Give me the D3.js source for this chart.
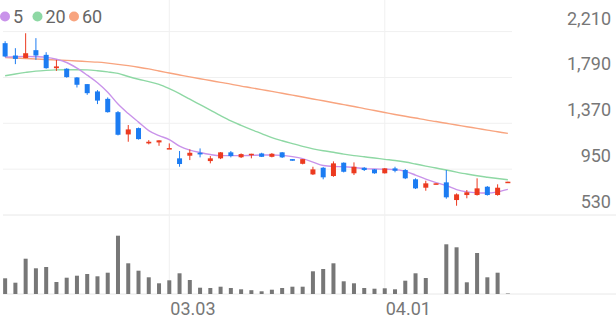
<!DOCTYPE html>
<html>
<head>
<meta charset="utf-8">
<script src="https://cdn.jsdelivr.net/npm/d3@7"></script>
<style>
  body { margin: 0; background: #fff; }
  svg { display: block; font-family: Roboto, 'Noto Sans', sans-serif; }
</style>
</head>
<body>
<svg id="chart"></svg>
<script>
// daily candles, oldest first
const opens  = [2104,1991,1967,2040,1997,1875,1870,1790,1729,1662,1594,1472,1268,1326,1186,1195,1137,1049,1073,1100,
                1024,1049,1104,1059,1079,1094,1063,1104,1042,999,902,963,887,1009,912,963,948,912,957,942,
                857,780,811,829,667,713,713,789,713,829];
const highs  = [2122,2058,2195,2150,2021,1951,1875,1793,1729,1674,1607,1482,1354,1331,1216,1214,1186,1116,1131,1140,
                1070,1107,1116,1094,1091,1100,1097,1107,1042,1042,972,969,1021,1012,1012,969,951,960,972,951,
                866,844,820,942,728,759,866,795,811,835];
const lows   = [1976,1912,1967,1951,1870,1850,1788,1698,1631,1546,1468,1259,1201,1221,1177,1164,1137,972,1033,1058,
                1003,1042,1058,1052,1049,1061,1058,1052,1027,994,896,857,880,920,896,933,908,910,921,859,
                768,752,811,679,615,683,708,708,707,829];
const closes = [1982,1960,2012,1991,1875,1891,1793,1723,1646,1578,1472,1265,1314,1225,1201,1214,1143,997,1100,1085,
                1049,1104,1070,1088,1091,1063,1091,1058,1027,1042,948,875,1003,926,972,942,912,957,935,866,
                774,820,820,692,719,738,774,713,780,835];
const volumes = [157,113,353,257,270,120,163,183,200,177,213,583,307,233,167,107,137,207,140,63,
                 60,73,60,47,38,27,43,60,73,73,227,250,307,127,107,60,53,57,47,133,
                 207,160,0,497,467,117,410,167,213,5].map(v => v * 1000);

// moving averages as drawn (they carry history from before the window)
const ma5  = [1976,1981,1983,1980,1974,1957,1927,1875,1811,1742,1655,1546,1459,1381,1303,1257,1221,1161,1125,1102,
              1084,1074,1074,1074,1076,1079,1079,1076,1065,1047,1015,983,974,972,965,955,951,949,946,930,
              896,859,827,800,763,742,733,731,742,765];
const ma20 = [1806,1822,1836,1848,1855,1859,1860,1860,1859,1852,1841,1827,1799,1774,1752,1726,1687,1642,1591,1541,
              1491,1440,1392,1351,1312,1276,1239,1210,1184,1159,1136,1118,1105,1088,1074,1063,1052,1040,1029,1015,
              997,978,960,942,923,905,889,876,864,853];
const ma60 = [1973,1968,1964,1959,1955,1950,1946,1941,1935,1930,1921,1910,1898,1884,1868,1849,1831,1813,1795,1778,
              1762,1745,1729,1711,1695,1678,1662,1645,1628,1611,1593,1576,1558,1541,1524,1505,1487,1469,1451,1434,
              1418,1401,1386,1370,1354,1339,1323,1308,1292,1278];

const priceTicks = [2210, 1790, 1370, 950, 530];
const dateTicks = [{ index: 16, label: '03.03' }, { index: 37, label: '04.01' }];
const maKeys = ['5', '20', '60'];

class CandleChart {

  constructor(_config) {
    this.config = {
      parentElement: _config.parentElement,
      containerWidth: 616,
      containerHeight: 321,
      plotLeft: 3,
      plotRight: 512,
      priceTop: 31.6,
      priceBottom: 215,
      volTop: 220,
      volBottom: 294
    };
    this.colors = { up: '#ec3a1f', down: '#1c7cf2', '5': '#c993ea', '20': '#8ed8a4', '60': '#f8a47f' };
    this.initVis();
  }

  initVis() {
    let vis = this;
    let c = vis.config;

    vis.svg = d3.select(c.parentElement)
        .attr('width', c.containerWidth)
        .attr('height', c.containerHeight);

    vis.xScale = d3.scaleBand()
        .domain(d3.range(closes.length))
        .range([0, 513]);
    vis.xMid = i => vis.xScale(i) + vis.xScale.bandwidth() / 2;

    vis.yScale = d3.scaleLinear()
        .domain([530, 2210])
        .range([c.priceBottom, c.priceTop]);

    vis.volScale = d3.scaleLinear()
        .domain([0, 740000])
        .range([c.volBottom, c.volTop]);

    vis.grid = vis.svg.append('g');
    vis.marks = vis.svg.append('g');
    vis.labels = vis.svg.append('g');

    vis.updateVis();
  }

  updateVis() {
    let vis = this;
    let c = vis.config;

    // horizontal grid for price ticks
    vis.grid.selectAll('.hgrid')
        .data(priceTicks)
      .join('line')
        .attr('class', 'hgrid')
        .attr('x1', c.plotLeft)
        .attr('x2', d => d === 530 ? c.containerWidth : c.plotRight)
        .attr('y1', d => vis.yScale(d))
        .attr('y2', d => vis.yScale(d))
        .attr('stroke', d => d === 530 ? '#e8e8e8' : '#f0f0f0')
        .attr('stroke-width', 1);

    vis.grid.append('line')
        .attr('x1', c.plotLeft).attr('x2', c.containerWidth)
        .attr('y1', c.volBottom).attr('y2', c.volBottom)
        .attr('stroke', '#e8e8e8');

    vis.grid.selectAll('.vgrid')
        .data(dateTicks)
      .join('line')
        .attr('class', 'vgrid')
        .attr('x1', d => vis.xMid(d.index))
        .attr('x2', d => vis.xMid(d.index))
        .attr('y1', 0)
        .attr('y2', c.volBottom)
        .attr('stroke', '#f0f0f0');

    // volume bars
    vis.marks.selectAll('.vol')
        .data(volumes)
      .join('rect')
        .attr('class', 'vol')
        .attr('x', (d, i) => vis.xMid(i) - 2)
        .attr('width', 4)
        .attr('y', d => vis.volScale(d))
        .attr('height', d => c.volBottom - vis.volScale(d))
        .attr('fill', '#777');

    // moving averages
    let series = { '5': ma5, '20': ma20, '60': ma60 };
    let line = d3.line()
        .x((d, i) => vis.xMid(i))
        .y(d => vis.yScale(d))
        .curve(d3.curveMonotoneX);

    vis.marks.selectAll('.ma')
        .data(['60', '20', '5'])
      .join('path')
        .attr('class', 'ma')
        .attr('d', k => line(series[k]))
        .attr('fill', 'none')
        .attr('stroke', k => vis.colors[k])
        .attr('stroke-width', 1.4);

    // candles
    let candles = closes.map((close, i) => ({ i, open: opens[i], high: highs[i], low: lows[i], close }));
    let candleColor = d => d.close >= d.open ? vis.colors.up : vis.colors.down;

    let g = vis.marks.selectAll('.candle')
        .data(candles)
      .join('g')
        .attr('class', 'candle');

    g.append('line')
        .attr('x1', d => vis.xMid(d.i))
        .attr('x2', d => vis.xMid(d.i))
        .attr('y1', d => vis.yScale(d.high))
        .attr('y2', d => vis.yScale(d.low))
        .attr('stroke', candleColor)
        .attr('stroke-width', 1);

    g.append('rect')
        .attr('x', d => vis.xMid(d.i) - 2.5)
        .attr('width', 5)
        .attr('y', d => vis.yScale(Math.max(d.open, d.close)))
        .attr('height', d => Math.max(1.5, Math.abs(vis.yScale(d.open) - vis.yScale(d.close))))
        .attr('fill', candleColor);

    // price labels sit just above their grid line
    vis.labels.selectAll('.ylabel')
        .data(priceTicks)
      .join('text')
        .attr('class', 'ylabel')
        .attr('x', 611)
        .attr('y', d => vis.yScale(d) - 7)
        .attr('text-anchor', 'end')
        .attr('fill', '#777')
        .style('font-size', '18px')
        .text(d => d3.format(',')(d));

    vis.labels.selectAll('.xlabel')
        .data(dateTicks)
      .join('text')
        .attr('class', 'xlabel')
        .attr('x', d => vis.xMid(d.index) + 1)
        .attr('y', 315)
        .attr('fill', '#777')
        .style('font-size', '18px')
        .text(d => d.label);

    // legend
    let legend = vis.labels.selectAll('.legend')
        .data(maKeys)
      .join('g')
        .attr('class', 'legend')
        .attr('transform', (d, i) => `translate(${[5, 37.5, 74][i]},16.5)`);

    legend.append('circle')
        .attr('r', 5)
        .attr('fill', d => vis.colors[d]);

    legend.append('text')
        .attr('x', 8)
        .attr('y', 6.5)
        .attr('fill', '#666')
        .style('font-size', '18px')
        .text(d => d);
  }
}

new CandleChart({ parentElement: '#chart' });
</script>
</body>
</html>
